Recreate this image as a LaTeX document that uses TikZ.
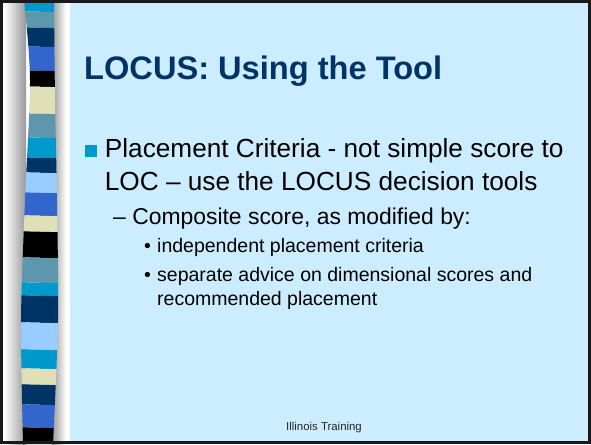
\documentclass[tikz,border=0pt]{standalone}
\usepackage{fontspec}
\setmainfont{Liberation Sans}
\usepackage{tikz}

\definecolor{slidebg}{HTML}{CCECFF}
\definecolor{titleblue}{HTML}{003366}
\definecolor{sCyan}{HTML}{0099CC}
\definecolor{sSteel}{HTML}{5C97AE}
\definecolor{sNavy}{HTML}{003366}
\definecolor{sRoyal}{HTML}{3366CC}
\definecolor{sBeige}{HTML}{DFDFB8}
\definecolor{sLight}{HTML}{99CCFF}

\begin{document}
\begin{tikzpicture}[x=1pt, y=-1pt,
    every node/.style={inner sep=0pt, anchor=base west},
    lvlone/.style={font=\fontsize{26.2}{31}\selectfont},
    lvltwo/.style={font=\fontsize{22.9}{27}\selectfont},
    lvlthree/.style={font=\fontsize{19.5}{23}\selectfont}]
        \useasboundingbox (0,0) rectangle (591,444);
        \fill[slidebg] (0,0) rectangle (591,444);
        
        % left band
        \fill[white] (0,0) rectangle (70,444);
        \shade[left color=white, right color=gray!80] (4,0) rectangle (26,444);
        \shade[left color=gray!80, right color=white] (52,0) rectangle (66,444);
        \begin{scope}
            \clip plot[smooth] coordinates {(24,0) (30,80) (25,200) (21,320) (23,444)}
                -- plot[smooth] coordinates {(53,444) (58,320) (57,200) (55,100) (54,0)} -- cycle;
            \foreach \ya/\yb/\c in {0/11/sCyan, 11/27/sSteel, 27/46/sNavy, 46/70/sRoyal,
                70/86/black, 86/113/sBeige, 113/137/sSteel, 137/157/sCyan, 157/172/sNavy,
                172/192/sLight, 192/215/sRoyal, 215/231/sBeige, 231/257/black, 257/282/sSteel,
                282/295/sCyan, 295/322/sNavy, 322/349/sLight, 349/368/sCyan, 368/384/sBeige,
                384/404/sNavy, 404/427/sRoyal, 427/444/black}
                \fill[\c] (10,\ya) -- (70,\ya+1.5) -- (70,\yb+1.5) -- (10,\yb) -- cycle;
        \end{scope}
        
        \node[font=\bfseries\fontsize{32.6}{39}\selectfont, text=titleblue] (title) at (84,79) {LOCUS: Using the Tool};
        
        \node[fill=sCyan, minimum size=12pt, anchor=center] (sq) at (91,151) {};
        \node[lvlone] (l1) at (104.7,157) {Placement Criteria - not simple score to};
        \node[lvlone] (l2) at (104.7,190) {LOC – use the LOCUS decision tools};
        \node[lvltwo] (l3) at (113,224) {– Composite score, as modified by:};
        \node[lvlthree] (d1) at (144,252) {•};
        \node[lvlthree] (l4) at (157,252) {independent placement criteria};
        \node[lvlthree] (d2) at (144,281) {•};
        \node[lvlthree] (l5) at (157,281) {separate advice on dimensional scores and};
        \node[lvlthree] (l6) at (157,305) {recommended placement};
        
        \node[font=\fontsize{11.4}{14}\selectfont, text=black!85] (foot) at (286,430) {Illinois Training};
        
        \draw[line width=2.7pt, black!90] (1.35,1.35) rectangle (589.65,442.65);
    \end{tikzpicture}
\end{document}
